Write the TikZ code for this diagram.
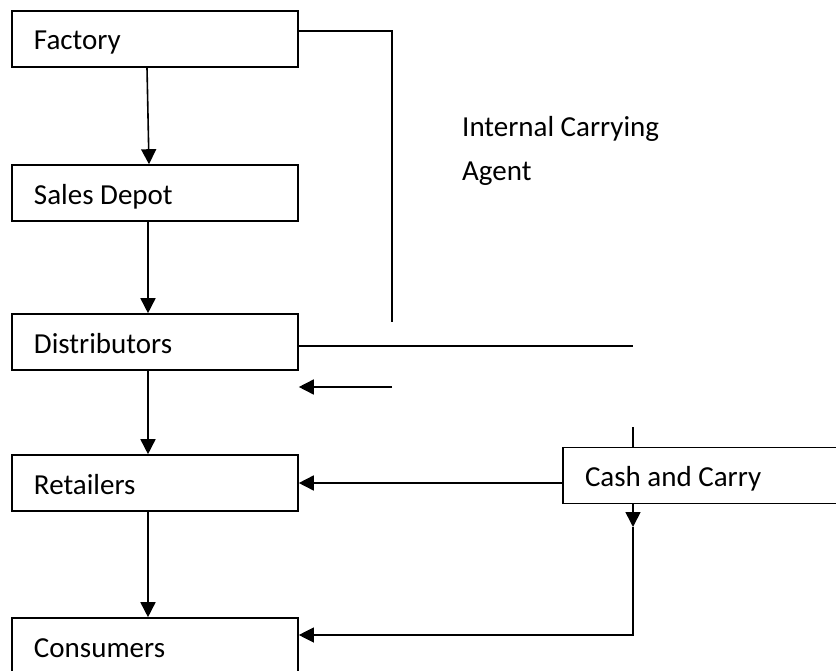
\documentclass[tikz,border=0pt]{standalone}
\usepackage{fontspec}
\setmainfont{Carlito}
\usetikzlibrary{arrows.meta}

\tikzset{
	stage/.style={draw, line width=1.6bp, text width=242bp, inner xsep=22bp,
		minimum height=56bp, text height=26bp, text depth=4bp, align=flush left},
	flow/.style={line width=1.6bp, -{Triangle[length=15bp, width=15bp]}},
	thin/.style={line width=1.2bp}
}

\begin{document}
\begin{tikzpicture}[x=1bp, y=-1bp, font=\fontsize{29bp}{43bp}\selectfont]
				\clip (0, 0) rectangle (836, 671);

				\node (Factory) [stage] at (155, 39) {Factory};
				\node (Depot) [stage] at (155, 193) {Sales Depot};
				\draw[flow] ([xshift=-8bp]Factory.south) -- ([xshift=-6bp]Depot.north);

				\node (Distributors) [stage] at (155, 342) {Distributors};
				\draw[flow] ([xshift=-7bp]Depot.south) -- ([xshift=-7bp]Distributors.north);

				\node (Retailers) [stage] at (155, 483) {Retailers};
				\draw[flow] ([xshift=-7bp]Distributors.south) -- ([xshift=-7bp]Retailers.north);

				\node (Consumers) [stage] at (155, 646) {Consumers};
				\draw[flow] ([xshift=-7bp]Retailers.south) -- ([xshift=-7bp]Consumers.north);

				% internal carrying agent
				\node (Agent) [anchor=base west, align=left, inner sep=0pt] at (462, 180) {Internal Carrying\\Agent};
				\coordinate (AgentTop) at (392, 31);
				\coordinate (AgentEnd) at (392, 322);
				\draw[line width=1.6bp] (Factory.east |- AgentTop) -- (AgentTop) -- (AgentEnd);

				\coordinate (DistEnd) at (633, 346);
				\draw[thin] (Distributors.east |- DistEnd) -- (DistEnd);

				\coordinate (BackStart) at (392, 387);
				\draw[flow] (BackStart) -- (Distributors.east |- BackStart);

				% cash and carry
				\node (CashCarry) [stage] at (706, 475.5) {Cash and Carry};
				\coordinate (CashTop) at (633, 427);
				\draw[line width=1.6bp] (CashTop) -- (CashTop |- CashCarry.north);
				\coordinate (CashTip) at (633, 527);
				\draw[flow] (CashTop |- CashCarry.south) -- (CashTip);
				\draw[flow] (CashCarry.west |- Retailers.east) -- (Retailers.east);
				\coordinate (CashCorner) at (633, 635);
				\draw[thin, -{Triangle[length=15bp, width=15bp]}] (CashTip) -- (CashCorner) -- (Consumers.east |- CashCorner);
			\end{tikzpicture}
\end{document}
